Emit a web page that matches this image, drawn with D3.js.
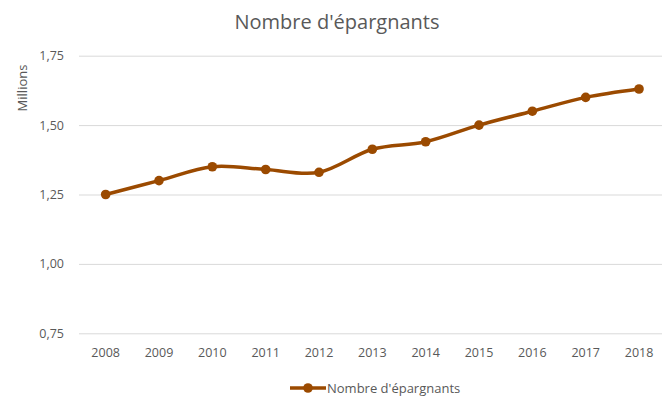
<!DOCTYPE html>
<html><head><meta charset="utf-8">
<script src="https://cdn.jsdelivr.net/npm/d3@7"></script>
<style>body{margin:0;background:#fff}svg{display:block}</style>
</head><body>
<svg id="c" width="662" height="400"></svg>
<script>
const years = ["2008","2009","2010","2011","2012","2013","2014","2015","2016","2017","2018"];
const savers = [1.25,1.30,1.35,1.34,1.33,1.413,1.44,1.50,1.55,1.60,1.63];
const yTicks = [0.75,1.00,1.25,1.50,1.75];
const title = "Nombre d'épargnants";
const yTitle = "Millions";
const seriesName = "Nombre d'épargnants";

const W=662,H=400;
const svg=d3.select("#c");
const font="'Open Sans', sans-serif";
const color="#9B4A00";
const txt="#595959";
const x=d3.scaleBand().domain(years).range([79,665.7]);
const y=d3.scaleLinear().domain([0.75,1.75]).range([333.3,55.7]);

// gridlines
const g=svg.append("g").attr("class","axis-y")
  .attr("transform","translate(79,0)")
  .call(d3.axisLeft(y).tickValues(yTicks).tickSize(-(W-79)).tickPadding(15)
    .tickFormat(d=>d3.format(".2f")(d).replace(".",",")));
g.select(".domain").remove();
g.selectAll(".tick line").attr("stroke","#d9d9d9").attr("stroke-width",1);
g.selectAll(".tick text").attr("fill",txt).style("font-family",font).style("font-size","12.5px");

const gx=svg.append("g").attr("class","axis-x")
  .attr("transform","translate(0,333.3)")
  .call(d3.axisBottom(x).tickSize(0).tickPadding(15));
gx.select(".domain").remove();
gx.selectAll(".tick text").attr("fill",txt).style("font-family",font).style("font-size","12.5px");

// line
const pts=years.map((yr,i)=>[x(yr)+x.bandwidth()/2,y(savers[i])]);
svg.append("path").attr("d",d3.line().curve(d3.curveCardinal.tension(0))(pts))
  .attr("fill","none").attr("stroke",color).attr("stroke-width",3.5).attr("stroke-linecap","round");
svg.selectAll("circle.pt").data(pts).join("circle").attr("class","pt")
  .attr("cx",d=>d[0]).attr("cy",d=>d[1]).attr("r",4.8).attr("fill",color);

// titles
svg.append("text").attr("x",337).attr("y",29).attr("text-anchor","middle")
  .attr("fill",txt).style("font-family",font).style("font-size","20px").text(title);
svg.append("text").attr("transform","translate(27,88) rotate(-90)").attr("text-anchor","middle")
  .attr("fill",txt).style("font-family",font).style("font-size","13px").text(yTitle);

// legend
const lg=svg.append("g");
lg.append("line").attr("x1",290).attr("x2",326).attr("y1",388).attr("y2",388)
  .attr("stroke",color).attr("stroke-width",3.5);
lg.append("circle").attr("cx",308).attr("cy",388).attr("r",4.8).attr("fill",color);
lg.append("text").attr("x",327).attr("y",392.5).attr("fill",txt)
  .style("font-family",font).style("font-size","13px").text(seriesName);
</script>
</body></html>
